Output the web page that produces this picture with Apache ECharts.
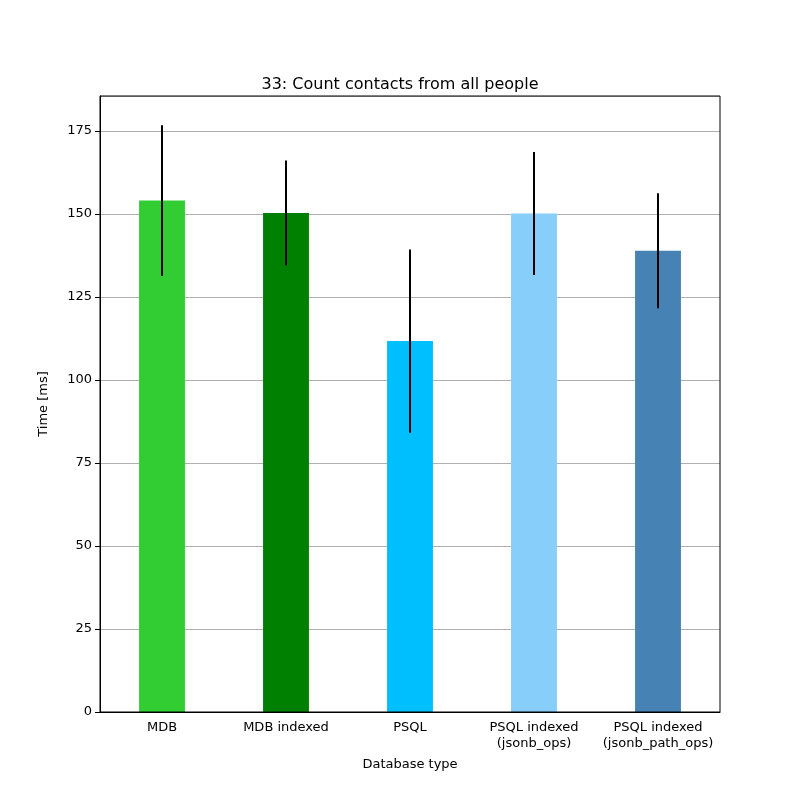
<!DOCTYPE html>
<html><head><meta charset="utf-8">
<script src="https://cdn.jsdelivr.net/npm/echarts@6/dist/echarts.min.js"></script>
<style>body{margin:0}#c{width:800px;height:800px}</style></head>
<body><div id="c"></div>
<script>
const categories = ['MDB','MDB indexed','PSQL','PSQL indexed\n(jsonb_ops)','PSQL indexed\n(jsonb_path_ops)'];
const values = [154.0, 150.3, 111.7, 150.1, 138.9];
const errors = [22.7, 15.8, 27.6, 18.5, 17.3];
const colors = ['#32cd32','#008000','#00bfff','#87cefa','#4682b4'];
const chart = echarts.init(document.getElementById('c'));
const font = 'DejaVu Sans';
chart.setOption({
  animation:false,
  textStyle:{fontFamily:font},
  title:{text:'33: Count contacts from all people',left:'center',top:72,textStyle:{fontFamily:font,fontSize:16,fontWeight:'normal',color:'#000'}},
  grid:{left:100,right:80,top:96,bottom:88},
  xAxis:{type:'category',data:categories,name:'Database type',nameLocation:'middle',nameGap:46,
    nameTextStyle:{fontSize:13,color:'#000'},
    axisLine:{show:true,onZero:false,lineStyle:{color:'#000'}},axisTick:{alignWithLabel:true,lineStyle:{color:'#000'}},
    axisLabel:{color:'#000',fontSize:13,lineHeight:16,interval:0}},
  yAxis:{type:'value',min:0,max:185.5,interval:25,name:'Time [ms]',nameLocation:'middle',nameGap:50,
    nameTextStyle:{fontSize:13,color:'#000'},
    axisLine:{show:true,lineStyle:{color:'#000'}},axisTick:{show:true,lineStyle:{color:'#000'}},
    axisLabel:{color:'#000',fontSize:13,showMaxLabel:false},
    splitLine:{lineStyle:{color:'#b0b0b0'}}},
  series:[
    {type:'bar',barWidth:'37%',data:values.map((v,i)=>({value:v,itemStyle:{color:colors[i]}}))},
    {type:'custom',z:10,data:values.map((v,i)=>[i,v-errors[i],v+errors[i]]),
      renderItem:(p,api)=>{const a=api.coord([api.value(0),api.value(1)]);const b=api.coord([api.value(0),api.value(2)]);
        return {type:'line',shape:{x1:a[0],y1:a[1],x2:b[0],y2:b[1]},style:{stroke:'#000',lineWidth:2}};}}
  ]
});
// frame
chart.setOption({graphic:[{type:'rect',shape:{x:100,y:96,width:620,height:616},style:{fill:'none',stroke:'#000',lineWidth:1},z:100}]});
</script></body></html>
